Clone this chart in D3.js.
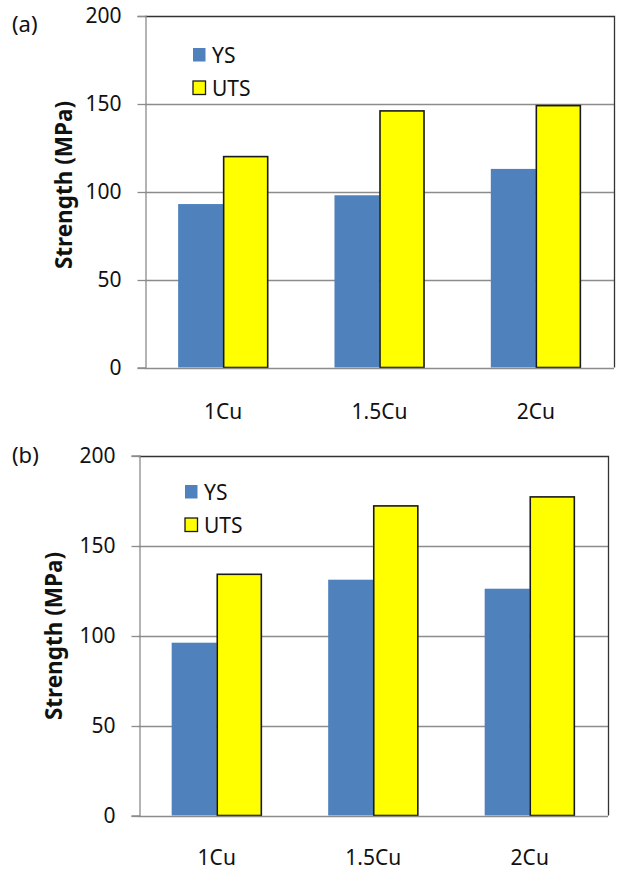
<!DOCTYPE html>
<html>
<head>
<meta charset="utf-8">
<script src="https://cdn.jsdelivr.net/npm/d3@7"></script>
<style>
  html, body { margin: 0; padding: 0; background: #fff; }
  svg { display: block; font-family: "Noto Sans", "Open Sans", sans-serif; }
</style>
</head>
<body>
<svg id="chart" width="618" height="871"></svg>
<script>
// Alloy compositions along the x axis
const categories = ["1Cu", "1.5Cu", "2Cu"];
const seriesNames = ["YS", "UTS"];
const seriesColors = ["#4F81BD", "#FFFF00"];

// Panel (a): yield and ultimate tensile strength, MPa
const ysA = [93, 98, 113];
const utsA = [120, 146, 149];

// Panel (b)
const ysB = [96, 131, 126];
const utsB = [134, 172, 177];

const yTicks = [0, 50, 100, 150, 200];
const yDomain = [0, 200];

const svg = d3.select("#chart");

function drawPanel(p) {
  const g = svg.append("g");
  const { left, right, top, bottom } = p;

  const y = d3.scaleLinear().domain(yDomain).range([bottom, top]);
  const x0 = d3.scaleBand().domain(categories).range([left, right])
    .paddingInner(0.424).paddingOuter(0.212);
  const x1 = d3.scaleBand().domain(seriesNames).range([0, x0.bandwidth()]).padding(0);

  const crisp = v => Math.round(v) + 0.5;

  // horizontal gridlines (the 200 line is the plot frame)
  g.selectAll("line.grid").data(yTicks.filter(t => t > 0 && t < 200)).join("line")
    .attr("x1", left).attr("x2", right)
    .attr("y1", d => crisp(y(d))).attr("y2", d => crisp(y(d)))
    .attr("stroke", "#8c8c8c").attr("stroke-width", 1.3);

  // plot frame: top and right sides
  g.append("path")
    .attr("d", `M${left},${crisp(top)}H${crisp(right)}V${bottom}`)
    .attr("fill", "none").attr("stroke", "#333").attr("stroke-width", 1.3);

  // bars
  const rows = categories.map((c, i) => ({ cat: c, vals: [p.ys[i], p.uts[i]] }));
  const grp = g.selectAll("g.cat").data(rows).join("g")
    .attr("transform", d => `translate(${x0(d.cat)},0)`);
  grp.selectAll("rect").data(d => d.vals.map((v, k) => ({ s: seriesNames[k], v, k }))).join("rect")
    .attr("x", d => x1(d.s) + (d.k === 1 ? 0.5 : 0))
    .attr("width", d => x1.bandwidth() - (d.k === 1 ? 1 : 0))
    .attr("y", d => y(d.v))
    .attr("height", d => y(0) - y(d.v))
    .attr("fill", d => seriesColors[d.k])
    .attr("stroke", d => d.k === 1 ? "#1a1a1a" : "none")
    .attr("stroke-width", 1.6);

  // y axis
  const yAxis = d3.axisLeft(y).tickValues(yTicks).tickSize(8).tickPadding(16)
    .tickFormat(d3.format("d"));
  const ya = g.append("g").attr("transform", `translate(${crisp(left)},0)`).call(yAxis);
  ya.select(".domain").attr("stroke", "#8c8c8c").attr("stroke-width", 1.3);
  ya.selectAll(".tick line").attr("stroke", "#8c8c8c").attr("stroke-width", 1.3);
  ya.selectAll(".tick text").attr("font-size", 21).attr("fill", "#111")
    .attr("font-family", "'Noto Sans', sans-serif");
  ya.selectAll(".tick").attr("transform", d => `translate(0,${crisp(y(d))})`);

  // x axis baseline
  g.append("line")
    .attr("x1", left).attr("x2", right)
    .attr("y1", crisp(y(0))).attr("y2", crisp(y(0)))
    .attr("stroke", "#8c8c8c").attr("stroke-width", 1.3);

  // category labels
  g.selectAll("text.cat").data(categories).join("text")
    .attr("x", d => x0(d) + x0.bandwidth() / 2)
    .attr("y", p.catY)
    .attr("text-anchor", "middle")
    .attr("font-size", 21).attr("fill", "#111")
    .text(d => d);

  // axis title
  g.append("text")
    .attr("transform", `translate(${p.titleX},${p.titleY}) rotate(-90)`)
    .attr("text-anchor", "middle")
    .attr("font-size", 22.5).attr("font-weight", "bold").attr("fill", "#111")
    .text("Strength (MPa)");

  // panel tag
  g.append("text")
    .attr("x", 12).attr("y", p.tagY)
    .attr("font-size", 22).attr("fill", "#111")
    .text(p.tag);

  // legend
  const lg = g.append("g").attr("transform", `translate(${p.legX},${p.legY})`);
  seriesNames.forEach((s, k) => {
    const row = lg.append("g").attr("transform", `translate(0,${k * 33})`);
    row.append("rect")
      .attr("x", 0).attr("y", 0).attr("width", 12.5).attr("height", 13.5)
      .attr("fill", seriesColors[k])
      .attr("stroke", k === 1 ? "#1a1a1a" : "none").attr("stroke-width", 1.3);
    row.append("text")
      .attr("x", 19).attr("y", 14.5)
      .attr("font-size", 21).attr("fill", "#111")
      .text(s);
  });
}

drawPanel({
  tag: "(a)", tagY: 32,
  left: 145, right: 614, top: 16, bottom: 367.5,
  ys: ysA, uts: utsA,
  catY: 419, titleX: 72, titleY: 185,
  legX: 193, legY: 48
});

drawPanel({
  tag: "(b)", tagY: 463,
  left: 138.5, right: 608, top: 455.5, bottom: 815.5,
  ys: ysB, uts: utsB,
  catY: 865, titleX: 62, titleY: 636,
  legX: 185, legY: 485
});
</script>
</body>
</html>
